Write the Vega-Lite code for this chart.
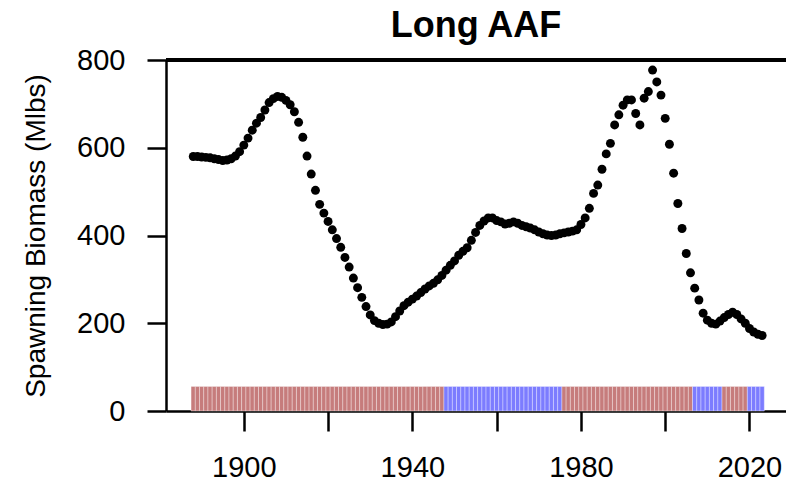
{
  "$schema": "https://vega.github.io/schema/vega-lite/v6.json",
  "autosize": "none",
  "width": 620,
  "height": 351,
  "padding": {"left": 166, "top": 60, "right": 0, "bottom": 77},
  "background": "white",
  "config": {"font": "Liberation Sans", "view": {"stroke": null}},
  "title": {"text": "Long AAF", "fontSize": 36, "fontWeight": "bold", "font": "Liberation Sans", "anchor": "middle", "baseline": "alphabetic", "offset": -27, "color": "black"},
  "data": {"values": [
    {"year":1888,"sb":580,"phase":"warm"},{"year":1889,"sb":580,"phase":"warm"},{"year":1890,"sb":579,"phase":"warm"},{"year":1891,"sb":578,"phase":"warm"},{"year":1892,"sb":577,"phase":"warm"},{"year":1893,"sb":575,"phase":"warm"},{"year":1894,"sb":573,"phase":"warm"},{"year":1895,"sb":571,"phase":"warm"},{"year":1896,"sb":572,"phase":"warm"},{"year":1897,"sb":575,"phase":"warm"},
    {"year":1898,"sb":581,"phase":"warm"},{"year":1899,"sb":591,"phase":"warm"},{"year":1900,"sb":606,"phase":"warm"},{"year":1901,"sb":622,"phase":"warm"},{"year":1902,"sb":640,"phase":"warm"},{"year":1903,"sb":656,"phase":"warm"},{"year":1904,"sb":669,"phase":"warm"},{"year":1905,"sb":686,"phase":"warm"},{"year":1906,"sb":703,"phase":"warm"},{"year":1907,"sb":712,"phase":"warm"},
    {"year":1908,"sb":717,"phase":"warm"},{"year":1909,"sb":715,"phase":"warm"},{"year":1910,"sb":708,"phase":"warm"},{"year":1911,"sb":698,"phase":"warm"},{"year":1912,"sb":682,"phase":"warm"},{"year":1913,"sb":658,"phase":"warm"},{"year":1914,"sb":624,"phase":"warm"},{"year":1915,"sb":581,"phase":"warm"},{"year":1916,"sb":540,"phase":"warm"},{"year":1917,"sb":503,"phase":"warm"},
    {"year":1918,"sb":471,"phase":"warm"},{"year":1919,"sb":451,"phase":"warm"},{"year":1920,"sb":432,"phase":"warm"},{"year":1921,"sb":413,"phase":"warm"},{"year":1922,"sb":393,"phase":"warm"},{"year":1923,"sb":373,"phase":"warm"},{"year":1924,"sb":350,"phase":"warm"},{"year":1925,"sb":328,"phase":"warm"},{"year":1926,"sb":303,"phase":"warm"},{"year":1927,"sb":281,"phase":"warm"},
    {"year":1928,"sb":259,"phase":"warm"},{"year":1929,"sb":238,"phase":"warm"},{"year":1930,"sb":219,"phase":"warm"},{"year":1931,"sb":206,"phase":"warm"},{"year":1932,"sb":200,"phase":"warm"},{"year":1933,"sb":197,"phase":"warm"},{"year":1934,"sb":198,"phase":"warm"},{"year":1935,"sb":203,"phase":"warm"},{"year":1936,"sb":215,"phase":"warm"},{"year":1937,"sb":228,"phase":"warm"},
    {"year":1938,"sb":240,"phase":"warm"},{"year":1939,"sb":248,"phase":"warm"},{"year":1940,"sb":255,"phase":"warm"},{"year":1941,"sb":262,"phase":"warm"},{"year":1942,"sb":270,"phase":"warm"},{"year":1943,"sb":278,"phase":"warm"},{"year":1944,"sb":285,"phase":"warm"},{"year":1945,"sb":291,"phase":"warm"},{"year":1946,"sb":299,"phase":"warm"},{"year":1947,"sb":309,"phase":"warm"},
    {"year":1948,"sb":321,"phase":"cool"},{"year":1949,"sb":332,"phase":"cool"},{"year":1950,"sb":342,"phase":"cool"},{"year":1951,"sb":355,"phase":"cool"},{"year":1952,"sb":364,"phase":"cool"},{"year":1953,"sb":372,"phase":"cool"},{"year":1954,"sb":389,"phase":"cool"},{"year":1955,"sb":407,"phase":"cool"},{"year":1956,"sb":423,"phase":"cool"},{"year":1957,"sb":433,"phase":"cool"},
    {"year":1958,"sb":440,"phase":"cool"},{"year":1959,"sb":440,"phase":"cool"},{"year":1960,"sb":434,"phase":"cool"},{"year":1961,"sb":431,"phase":"cool"},{"year":1962,"sb":426,"phase":"cool"},{"year":1963,"sb":428,"phase":"cool"},{"year":1964,"sb":431,"phase":"cool"},{"year":1965,"sb":428,"phase":"cool"},{"year":1966,"sb":423,"phase":"cool"},{"year":1967,"sb":420,"phase":"cool"},
    {"year":1968,"sb":417,"phase":"cool"},{"year":1969,"sb":413,"phase":"cool"},{"year":1970,"sb":408,"phase":"cool"},{"year":1971,"sb":404,"phase":"cool"},{"year":1972,"sb":401,"phase":"cool"},{"year":1973,"sb":400,"phase":"cool"},{"year":1974,"sb":401,"phase":"cool"},{"year":1975,"sb":404,"phase":"cool"},{"year":1976,"sb":406,"phase":"warm"},{"year":1977,"sb":408,"phase":"warm"},
    {"year":1978,"sb":410,"phase":"warm"},{"year":1979,"sb":413,"phase":"warm"},{"year":1980,"sb":425,"phase":"warm"},{"year":1981,"sb":440,"phase":"warm"},{"year":1982,"sb":462,"phase":"warm"},{"year":1983,"sb":496,"phase":"warm"},{"year":1984,"sb":515,"phase":"warm"},{"year":1985,"sb":551,"phase":"warm"},{"year":1986,"sb":586,"phase":"warm"},{"year":1987,"sb":610,"phase":"warm"},
    {"year":1988,"sb":652,"phase":"warm"},{"year":1989,"sb":675,"phase":"warm"},{"year":1990,"sb":697,"phase":"warm"},{"year":1991,"sb":709,"phase":"warm"},{"year":1992,"sb":709,"phase":"warm"},{"year":1993,"sb":678,"phase":"warm"},{"year":1994,"sb":652,"phase":"warm"},{"year":1995,"sb":713,"phase":"warm"},{"year":1996,"sb":728,"phase":"warm"},{"year":1997,"sb":777,"phase":"warm"},
    {"year":1998,"sb":750,"phase":"warm"},{"year":1999,"sb":720,"phase":"warm"},{"year":2000,"sb":667,"phase":"warm"},{"year":2001,"sb":608,"phase":"warm"},{"year":2002,"sb":542,"phase":"warm"},{"year":2003,"sb":473,"phase":"warm"},{"year":2004,"sb":416,"phase":"warm"},{"year":2005,"sb":359,"phase":"warm"},{"year":2006,"sb":315,"phase":"warm"},{"year":2007,"sb":280,"phase":"cool"},
    {"year":2008,"sb":253,"phase":"cool"},{"year":2009,"sb":223,"phase":"cool"},{"year":2010,"sb":207,"phase":"cool"},{"year":2011,"sb":200,"phase":"cool"},{"year":2012,"sb":198,"phase":"cool"},{"year":2013,"sb":205,"phase":"cool"},{"year":2014,"sb":213,"phase":"warm"},{"year":2015,"sb":220,"phase":"warm"},{"year":2016,"sb":225,"phase":"warm"},{"year":2017,"sb":220,"phase":"warm"},
    {"year":2018,"sb":210,"phase":"warm"},{"year":2019,"sb":200,"phase":"warm"},{"year":2020,"sb":188,"phase":"cool"},{"year":2021,"sb":180,"phase":"cool"},{"year":2022,"sb":175,"phase":"cool"},{"year":2023,"sb":172,"phase":"cool"}
  ]},
  "layer": [
    {
      "mark": {"type": "bar", "width": 4.4, "stroke": "white", "strokeOpacity": 0.4, "strokeWidth": 1, "fillOpacity": 1},
      "encoding": {
        "x": {"field": "year", "type": "quantitative",
          "scale": {"domain": [1882.72, 2027.48], "nice": false, "zero": false},
          "axis": {"values": [1900, 1920, 1940, 1960, 1980, 2000, 2020], "format": "d",
            "labelExpr": "(datum.value - 1900) % 40 == 0 ? datum.label : ''",
            "title": null, "grid": false, "tickSize": 20, "tickWidth": 2.5, "tickColor": "black",
            "domainWidth": 2.5, "domainColor": "black", "labelFontSize": 29, "labelColor": "black",
            "labelFont": "Liberation Sans", "labelPadding": 22, "labelFlush": false, "labelOverlap": false}},
        "y": {"datum": 56, "type": "quantitative",
          "scale": {"domain": [0, 800], "nice": false, "zero": true},
          "axis": {"values": [0, 200, 400, 600, 800], "title": "Spawning Biomass (Mlbs)", "grid": false,
            "tickSize": 19, "tickWidth": 2.5, "tickColor": "black", "domainWidth": 2.5, "domainColor": "black",
            "labelFontSize": 29, "labelColor": "black", "labelFont": "Liberation Sans", "labelPadding": 22,
            "labelFlush": false, "labelOverlap": false,
            "titleFontSize": 28, "titleFontWeight": "normal", "titleColor": "black", "titleFont": "Liberation Sans",
            "titleX": -130, "titleY": 175.5, "titleAngle": -90, "titleAlign": "center", "titleBaseline": "middle"}},
        "y2": {"datum": 0},
        "color": {"field": "phase", "type": "nominal",
          "scale": {"domain": ["warm", "cool"], "range": ["#c67c7c", "#7c7cff"]}, "legend": null}
      }
    },
    {
      "mark": {"type": "rule", "color": "black", "strokeWidth": 2.5},
      "encoding": {"y": {"datum": 800, "type": "quantitative"}}
    },
    {
      "mark": {"type": "circle", "size": 80, "color": "black", "opacity": 1},
      "encoding": {
        "x": {"field": "year", "type": "quantitative"},
        "y": {"field": "sb", "type": "quantitative", "title": "Spawning Biomass (Mlbs)"}
      }
    }
  ]
}
